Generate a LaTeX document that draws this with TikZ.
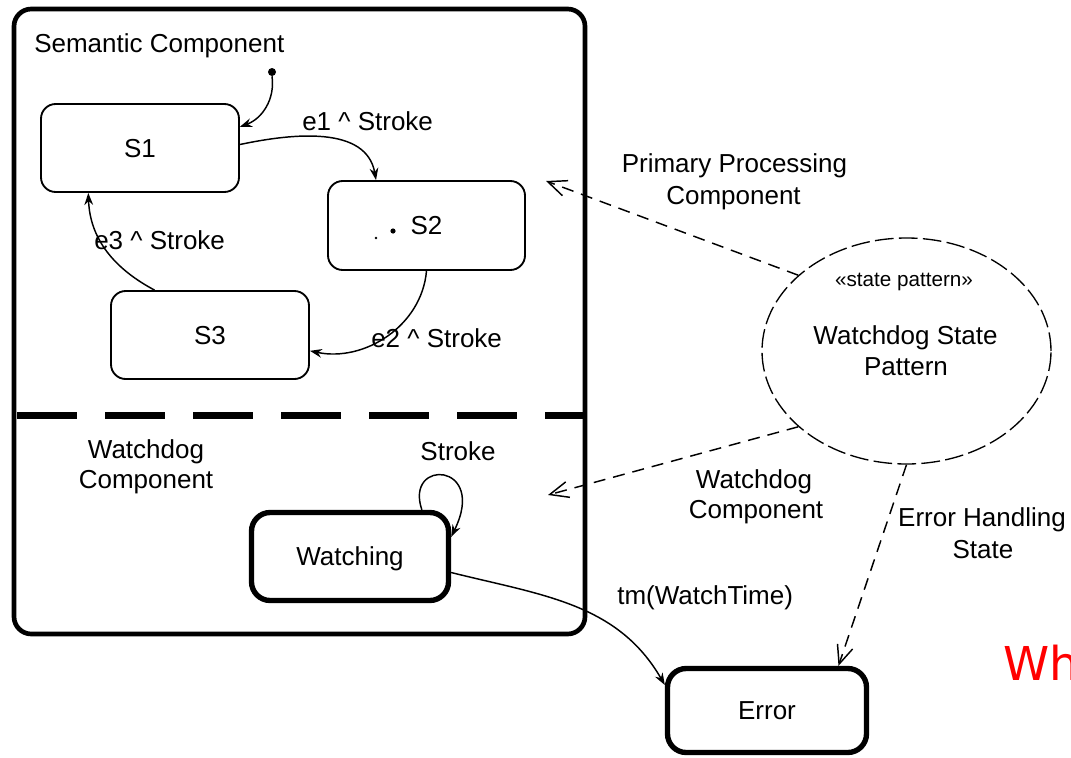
\documentclass[tikz,border=0pt]{standalone}
\usepackage{fontspec}
\setmainfont{Liberation Sans}
\newfontfamily\whfont{DejaVu Sans}
\usetikzlibrary{arrows.meta,shapes.geometric}
\begin{document}
\begin{tikzpicture}[x=0.75pt,y=-0.75pt,
  every node/.style={font=\fontsize{19.5pt}{22.5pt}\selectfont, inner sep=0pt},
  state/.style={draw, line width=1.4pt, rounded corners=11pt, minimum width=148.5pt, minimum height=66pt, text depth=0pt},
  boldstate/.style={state, line width=4pt, rounded corners=14pt},
  trans/.style={line width=1.1pt, -{Stealth[length=9pt,width=6.5pt]}},
  dep/.style={line width=1.1pt, dash pattern=on 9pt off 6pt, -{Straight Barb[length=14pt,width=12pt]}},
  lbl/.style={anchor=base},
]
\useasboundingbox (0,0) rectangle (1071,757);

% outer composite state
\node[draw, line width=3.5pt, rounded corners=13pt, minimum width=428.25pt, minimum height=468.75pt] (outer) at (299.5,321.5) {};
\coordinate (sepy) at (0,415.5);
\draw[line width=5.25pt, dash pattern=on 45pt off 21pt, dash phase=62pt] (outer.west |- sepy) -- (outer.east |- sepy);

% labels of regions
\node[anchor=base west] (semlbl) at (34,52) {Semantic Component};
\node[lbl] (wdl1) at (146,458) {Watchdog};
\node[lbl] (wdl2) at (146,488) {Component};

% states
\node[state] (S1) at (140,148) {S1};
\node[state, minimum width=147.75pt, minimum height=66.75pt] (S2) at (426.5,225.5) {S2};
\node[state] (S3) at (210,335) {S3};
\node[boldstate, minimum width=147.75pt, minimum height=66pt] (W) at (350,556.5) {Watching};
\node[boldstate, minimum width=149.25pt, minimum height=63pt] (E) at (767,710.5) {Error};

% scan specks inside S2
\fill (393,231) circle (2.6);
\fill (376,238) circle (1.3);

% initial pseudo-state
\node[circle, fill, minimum size=6pt] (init) at (272,72) {};
\draw[trans] (init.south) to[out=-82,in=20] (S1.12);

% transitions
\draw[trans] (S1.2) to[out=12,in=100] (S2.138);
\node[anchor=base west] (e1) at (302,130) {e1 \^{} Stroke};
\draw[trans] (S2.south) to[out=-95,in=-12] (S3.-9);
\node[anchor=base west] (e2) at (371,347) {e2 \^{} Stroke};
\draw[trans] (S3.141) to[out=152,in=-88] (S1.221);
\node[anchor=base west] (e3) at (94,249) {e3 \^{} Stroke};

\draw[trans] (W.33) .. controls (404,458) and (488,462) .. (W.11);
\node[lbl] (strk) at (458,460) {Stroke};

\draw[trans] (W.-9) to[out=-14,in=120] (E.166);
\node[anchor=base west] (tm) at (617,604) {tm(WatchTime)};

% pattern collaboration
\node[ellipse, draw, line width=1pt, dash pattern=on 14pt off 4pt, minimum width=216.75pt, minimum height=169.5pt] (pat) at (906.5,351) {};
\node[lbl, font=\fontsize{15.5pt}{18pt}\selectfont] (ster) at (904,286) {«state pattern»};
\node[lbl] (pt1) at (905.5,344) {Watchdog State};
\node[lbl] (pt2) at (906,375) {Pattern};

\coordinate (ppc) at (546,181);
\coordinate (wdc) at (548,495);
\draw[dep] (pat.145) -- (ppc);
\draw[dep] (pat.215) -- (wdc);
\draw[dep] (pat.south) -- (E.32);

\node[lbl] (pp1) at (734.5,172) {Primary Processing};
\node[lbl] (pp2) at (733.5,204) {Component};
\node[lbl] (wc1) at (754,488) {Watchdog};
\node[lbl] (wc2) at (756,518) {Component};
\node[lbl] (eh1) at (982,526) {Error Handling};
\node[lbl] (eh2) at (983,558) {State};

\node[anchor=base west, text=red, font=\whfont\fontsize{35pt}{40pt}\selectfont] (wh) at (1003,680) {Wh};
\end{tikzpicture}
\end{document}
